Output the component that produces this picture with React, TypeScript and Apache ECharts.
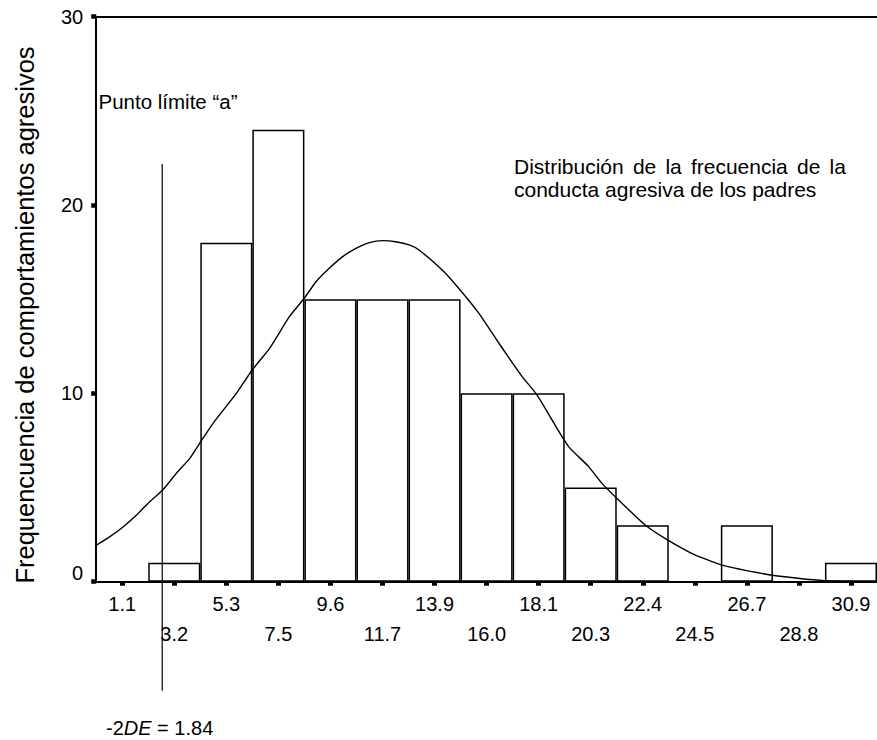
import React, { useEffect, useRef } from "react";
import * as echarts from "echarts";

// Histogram bins (midpoints) and observed frequencies
const categories = ["1.1", "3.2", "5.3", "7.5", "9.6", "11.7", "13.9", "16.0", "18.1", "20.3", "22.4", "24.5", "26.7", "28.8", "30.9"];
const frequencies = [0, 1, 18, 24, 15, 15, 15, 10, 10, 5, 3, 0, 3, 0, 1];

// Fitted normal curve, sampled points (score, expected frequency)
const curveX = [-0.84, -0.3, 0.25, 0.79, 1.33, 1.86, 2.42, 2.97, 3.37, 3.92, 4.87, 5.52, 6.23, 7.04, 7.65, 8.13, 8.67, 9.22, 9.76, 10.31, 10.85, 11.39, 11.94, 12.34, 13.29, 13.91, 14.79, 15.61, 16.56, 17.17, 17.78, 18.46, 19.28, 19.82, 20.5, 21.59, 22.4, 23.49, 24.71, 26.48, 27.84, 28.93, 30.42];
const curveY = [1.95, 2.39, 2.92, 3.54, 4.25, 4.87, 5.76, 6.55, 7.35, 8.41, 10.0, 11.24, 12.39, 14.07, 15.05, 15.93, 16.64, 17.26, 17.7, 18.0, 18.11, 18.05, 17.88, 17.61, 16.55, 15.66, 14.25, 12.66, 10.89, 9.91, 8.59, 7.17, 6.11, 5.22, 4.34, 3.01, 2.3, 1.51, 0.89, 0.41, 0.18, 0.05, 0.0];

// Cut-off point: mean minus two standard deviations
const cutoffValue = 1.84;
const cutoffSpan = [22.18, -5.79];

const yMin = 0;
const yMax = 30;
const yStep = 10;

const FONT = "'Liberation Sans', Arial, sans-serif";

// Justified first line of the caption: words joined by widened spaces
const captionLine1 = ["Distribución", "de", "la", "frecuencia", "de", "la"];
const captionLine2 = "conducta agresiva de los padres";

export default function App() {
  const ref = useRef<HTMLDivElement>(null);

  useEffect(() => {
    document.body.style.margin = "0";
    if (!ref.current) return;
    const chart = echarts.init(ref.current, undefined, { renderer: "svg" });

    const curveData = curveX.map((x, i) => [x, curveY[i]]);
    const cutoffData = cutoffSpan.map((y) => [cutoffValue, y]);
    const captionText =
      captionLine1.map((w) => `{t|${w}}`).join("{s| }") + `\n{t|${captionLine2}}`;

    chart.setOption({
      animation: false,
      backgroundColor: "#ffffff",
      textStyle: { fontFamily: FONT, color: "#000" },
      grid: { left: 96.2, top: 16.7, width: 783, height: 565 },
      xAxis: [
        {
          type: "category",
          data: categories,
          position: "bottom",
          boundaryGap: true,
          axisLine: { show: true, onZero: false, lineStyle: { color: "#000", width: 2 } },
          axisTick: { show: true, alignWithLabel: true, length: 4, lineStyle: { color: "#000", width: 5 } },
          axisLabel: {
            interval: 0,
            color: "#000",
            fontFamily: FONT,
            fontSize: 20,
            lineHeight: 30,
            margin: 7,
            formatter: (v: string, i: number) => (i % 2 === 1 ? "\n" + v : v),
          },
          splitLine: { show: false },
        },
        {
          type: "value",
          position: "top",
          min: -0.86,
          max: 31.07,
          axisLine: { show: true, onZero: false, lineStyle: { color: "#000", width: 2 } },
          axisTick: { show: false },
          axisLabel: { show: false },
          splitLine: { show: false },
        },
      ],
      yAxis: {
        type: "value",
        min: yMin,
        max: yMax,
        interval: yStep,
        axisLine: { show: true, onZero: false, lineStyle: { color: "#000", width: 2 } },
        axisTick: { show: true, length: 5, lineStyle: { color: "#000", width: 4.5 } },
        axisLabel: {
          color: "#000",
          fontFamily: FONT,
          fontSize: 20,
          margin: 13,
          formatter: (v: number) => (v === 0 ? "{z|0}" : String(v)),
          rich: { z: { fontSize: 20, fontFamily: FONT, color: "#000", padding: [0, 0, 18, 0] } },
        },
        splitLine: { show: false },
      },
      series: [
        {
          type: "bar",
          xAxisIndex: 0,
          yAxisIndex: 0,
          data: frequencies,
          barCategoryGap: "0%",
          itemStyle: { color: "#ffffff", borderColor: "#000", borderWidth: 1.5 },
          emphasis: { disabled: true },
          silent: true,
        },
        {
          type: "line",
          xAxisIndex: 1,
          yAxisIndex: 0,
          data: curveData,
          smooth: 0.2,
          showSymbol: false,
          symbol: "none",
          lineStyle: { color: "#000", width: 1.4 },
          emphasis: { disabled: true },
          silent: true,
        },
        {
          type: "line",
          xAxisIndex: 1,
          yAxisIndex: 0,
          data: cutoffData,
          clip: false,
          showSymbol: false,
          symbol: "none",
          lineStyle: { color: "#000", width: 1.2 },
          emphasis: { disabled: true },
          silent: true,
        },
      ],
      graphic: [
        {
          type: "text",
          x: 24.6,
          y: 315,
          rotation: Math.PI / 2,
          style: {
            text: "Frequencuencia de comportamientos agresivos",
            font: `25.5px ${FONT}`,
            fill: "#000",
            align: "center",
            verticalAlign: "middle",
          },
        },
        {
          type: "text",
          x: 98.5,
          y: 101,
          style: {
            text: "Punto límite “a”",
            font: `20.5px ${FONT}`,
            fill: "#000",
            align: "left",
            verticalAlign: "middle",
          },
        },
        {
          type: "text",
          x: 514,
          y: 154.3,
          style: {
            text: captionText,
            fill: "#000",
            align: "left",
            verticalAlign: "top",
            rich: {
              t: { fontSize: 21, fontFamily: FONT, lineHeight: 23.5, fill: "#000" },
              s: { fontSize: 33, fontFamily: FONT, lineHeight: 23.5, fill: "#000" },
            },
          },
        },
        {
          type: "text",
          x: 106,
          y: 728,
          style: {
            text: "{n|-2}{i|DE}{n| = 1.84}",
            fill: "#000",
            align: "left",
            verticalAlign: "middle",
            rich: {
              n: { fontSize: 20, fontFamily: FONT, fill: "#000" },
              i: { fontSize: 20, fontFamily: FONT, fontStyle: "italic", fill: "#000" },
            },
          },
        },
      ],
    });

    return () => chart.dispose();
  }, []);

  return (
    <div
      ref={ref}
      style={{ position: "absolute", left: 0, top: 0, width: 877, height: 740, background: "#fff" }}
    />
  );
}
